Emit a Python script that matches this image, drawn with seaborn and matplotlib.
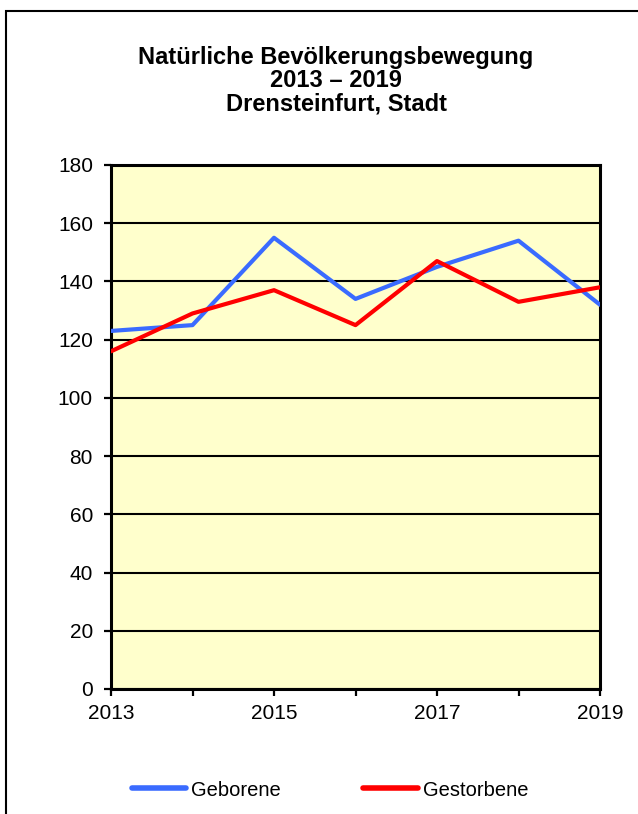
import matplotlib
matplotlib.use("Agg")
import matplotlib.pyplot as plt
import seaborn as sns
import pandas as pd
from matplotlib.patches import Rectangle
from matplotlib.lines import Line2D

years = [2013, 2014, 2015, 2016, 2017, 2018, 2019]
geborene = [123, 125, 155, 134, 145, 154, 132]
gestorbene = [116, 129, 137, 125, 147, 133, 138]
series_names = ["Geborene", "Gestorbene"]
title_lines = ["Natürliche Bevölkerungsbewegung", "2013 – 2019", "Drensteinfurt, Stadt"]
y_ticks = list(range(0, 181, 20))
x_labels = [2013, 2015, 2017, 2019]

df = pd.DataFrame({
    "Jahr": years * 2,
    "Wert": geborene + gestorbene,
    "Serie": [series_names[0]] * len(years) + [series_names[1]] * len(years),
})

sns.set_theme(style="white")
plt.rcParams["font.family"] = ["Liberation Sans", "DejaVu Sans"]
plt.rcParams["text.color"] = "black"

W, H = 638, 814
fig = plt.figure(figsize=(W / 100, H / 100), dpi=100)
ax = fig.add_axes([111 / W, 1 - 689 / H, (600 - 111) / W, (689 - 165) / H])
ax.set_facecolor("#FFFFCC")

sns.lineplot(data=df, x="Jahr", y="Wert", hue="Serie",
             palette={"Geborene": "#3A6BFF", "Gestorbene": "#FF0000"},
             linewidth=3.0, ax=ax, legend=False, zorder=3)

ax.set_xlim(2013, 2019)
ax.set_ylim(0, 180)
ax.set_yticks(y_ticks)
ax.set_xticks(years)
ax.set_xticklabels([str(y) if y in x_labels else "" for y in years])
ax.yaxis.grid(True, color="black", linewidth=1.5)
ax.set_axisbelow(True)
ax.set_xlabel("")
ax.set_ylabel("")
for s in ax.spines.values():
    s.set_visible(True)
    s.set_color("black")
    s.set_linewidth(2.2)
ax.tick_params(axis="both", which="major", direction="out", length=5, width=1.6,
               color="black", labelsize=15, labelcolor="black",
               bottom=True, left=True)
ax.tick_params(axis="x", pad=6)
ax.tick_params(axis="y", pad=8)

for txt, base in zip(title_lines, [64, 87, 110]):
    fig.text(336 / W, 1 - base / H, txt, ha="center", va="baseline",
             fontsize=17, fontweight="bold", color="black")

handles = [Line2D([], [], color="#3A6BFF", linewidth=4),
           Line2D([], [], color="#FF0000", linewidth=4)]
fig.legend(handles, series_names, loc="center", bbox_to_anchor=(330 / W, 1 - 790 / H),
           ncol=2, frameon=False, fontsize=14.5, handlelength=2.7, handletextpad=0.25,
           columnspacing=4.1, labelcolor="black")

fig.patches.append(Rectangle((6 / W, -0.05), 1.2, 1 - 11 / H + 0.05,
                             transform=fig.transFigure, fill=False,
                             edgecolor="black", linewidth=1.5))

fig.savefig("out.png", dpi=100)
